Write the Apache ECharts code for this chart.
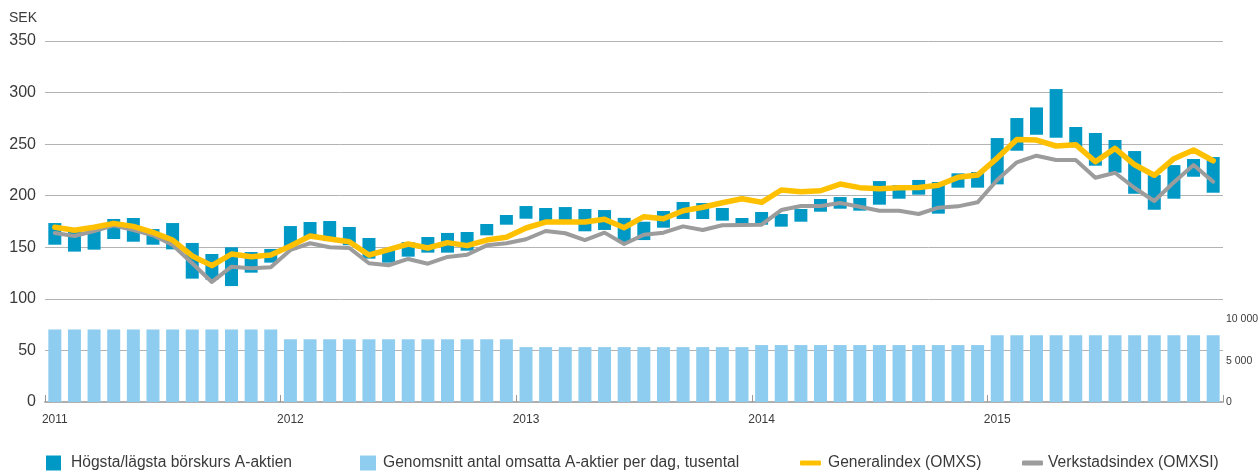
<!DOCTYPE html>
<html>
<head>
<meta charset="utf-8">
<script src="https://cdn.jsdelivr.net/npm/echarts@6/dist/echarts.min.js"></script>
<style>
  html, body { margin: 0; padding: 0; background: #fff; }
  #chart { width: 1258px; height: 472px; }
</style>
</head>
<body>
<div id="chart"></div>
<script>
// Monthly share data 2011–2015
const years = ['2011', '2012', '2013', '2014', '2015'];

// Highest / lowest monthly price of the A share, SEK
const highPrice = [
  173.5, 165.0, 170.0, 177.4, 178.4, 167.7, 173.5, 154.2, 143.5, 150.0, 145.4, 148.4,
  170.6, 174.5, 175.5, 169.7, 159.0, 148.6, 155.1, 160.0, 163.9, 164.8, 172.6, 181.3,
  190.0, 188.1, 189.0, 187.1, 186.1, 178.5, 174.8, 185.2, 193.9, 192.9, 188.1, 178.4,
  184.2, 182.3, 187.1, 196.8, 198.7, 197.8, 214.2, 210.4, 215.3, 213.3, 221.7, 223.0,
  255.9, 275.3, 285.6, 303.4, 266.6, 260.8, 254.0, 243.3, 220.0, 229.7, 235.6, 237.5
];
const lowPrice = [
  152.5, 145.8, 147.7, 158.0, 155.4, 152.5, 148.0, 119.6, 118.6, 112.4, 125.4, 135.1,
  147.4, 158.0, 156.0, 152.0, 139.0, 135.1, 140.9, 144.8, 144.8, 146.7, 161.6, 171.9,
  177.7, 175.0, 176.0, 165.5, 166.8, 155.0, 157.0, 169.0, 177.4, 177.4, 175.8, 171.0,
  171.9, 170.0, 174.8, 184.5, 187.4, 185.5, 191.3, 197.1, 201.0, 182.6, 207.8, 207.8,
  211.0, 243.6, 259.1, 256.2, 247.0, 229.1, 222.3, 201.9, 186.4, 197.1, 218.4, 202.9
];

// Average number of traded A shares per day, thousands
const volume = [
  8800, 8800, 8800, 8800, 8800, 8800, 8800, 8800, 8800, 8800, 8800, 8800,
  7600, 7600, 7600, 7600, 7600, 7600, 7600, 7600, 7600, 7600, 7600, 7600,
  6650, 6650, 6650, 6650, 6650, 6650, 6650, 6650, 6650, 6650, 6650, 6650,
  6900, 6900, 6900, 6900, 6900, 6900, 6900, 6900, 6900, 6900, 6900, 6900,
  8100, 8100, 8100, 8100, 8100, 8100, 8100, 8100, 8100, 8100, 8100, 8100
];

// Index levels rebased to the share price
const generalIndex = [
  169.4, 166.5, 169.4, 173.2, 170.3, 164.5, 157.0, 141.6, 132.2, 143.5, 140.9, 142.5,
  151.3, 161.0, 158.0, 155.4, 142.5, 147.7, 153.2, 149.3, 154.5, 151.6, 157.0, 159.7,
  168.7, 174.5, 174.5, 174.5, 177.1, 169.0, 179.7, 177.7, 185.5, 188.8, 193.2, 197.1,
  193.6, 205.5, 203.9, 204.8, 211.3, 207.8, 206.8, 207.8, 208.0, 210.1, 217.8, 220.0,
  236.5, 254.6, 254.0, 248.2, 249.5, 232.9, 245.9, 230.0, 219.8, 235.9, 244.3, 233.9
];
const verkstadsIndex = [
  163.9, 161.0, 165.8, 171.3, 166.8, 161.6, 152.2, 134.5, 116.4, 131.2, 129.6, 130.6,
  147.4, 153.9, 150.0, 149.3, 134.5, 132.6, 138.7, 134.1, 140.6, 142.8, 151.9, 153.9,
  157.8, 165.8, 163.6, 157.0, 164.2, 153.2, 162.2, 164.2, 170.3, 166.8, 171.3, 171.6,
  171.9, 186.1, 190.0, 190.0, 192.9, 189.3, 185.5, 185.5, 182.3, 188.4, 189.7, 193.6,
  215.2, 232.4, 238.8, 234.6, 234.6, 217.4, 222.3, 207.5, 194.9, 213.0, 229.7, 213.6
];

const names = {
  range: 'Högsta/lägsta börskurs A-aktien',
  volume: 'Genomsnitt antal omsatta A-aktier per dag, tusental',
  general: 'Generalindex (OMXS)',
  verkstad: 'Verkstadsindex (OMXSI)'
};

// One category per month, labelled by year
const months = [];
years.forEach(y => {
  for (let m = 1; m <= 12; m++) months.push(y + '-' + (m < 10 ? '0' + m : m));
});

const rangeSpan = highPrice.map((h, i) => +(h - lowPrice[i]).toFixed(1));

const FONT = '"Liberation Sans", Arial, sans-serif';
const TXT = '#3a3a3a';
const C_RANGE = '#0099c6';
const C_VOL = '#8ecdef';
const C_GEN = '#ffc000';
const C_VERK = '#9c9c9c';

function legendAt(left, name, icon, w, h, gap) {
  return {
    left: left,
    top: 455,
    padding: 0,
    itemWidth: w,
    itemHeight: h,
    selectedMode: false,
    textStyle: { fontFamily: FONT, fontSize: 15.6, color: TXT, padding: [0, 0, 0, gap] },
    data: [{ name: name, icon: icon }]
  };
}

const chart = echarts.init(document.getElementById('chart'), null, { renderer: 'canvas' });

chart.setOption({
  animation: false,
  backgroundColor: '#ffffff',
  grid: { left: 45, right: 35, top: 41, bottom: 70, containLabel: false, outerBoundsMode: 'none' },
  legend: [
    legendAt(46, names.range, 'rect', 15, 15, 5),
    legendAt(360, names.volume, 'rect', 16, 15, 2),
    legendAt(800, names.general, 'roundRect', 21, 5, 2),
    legendAt(1022, names.verkstad, 'roundRect', 21, 5, 0)
  ],
  xAxis: {
    type: 'category',
    data: months,
    boundaryGap: true,
    axisLine: { lineStyle: { color: '#b0b0b0', width: 2 } },
    axisTick: { show: true, inside: true, length: 7, interval: 11, lineStyle: { color: '#999999', width: 1 } },
    axisLabel: {
      interval: 11,
      margin: 12,
      fontFamily: FONT,
      fontSize: 12,
      color: TXT,
      formatter: v => v.slice(0, 4)
    },
    splitLine: { show: false }
  },
  yAxis: [
    {
      type: 'value',
      min: 0,
      max: 350,
      interval: 50,
      name: 'SEK',
      nameLocation: 'end',
      nameGap: 23,
      nameTextStyle: { fontFamily: FONT, fontSize: 14, color: TXT, align: 'right', verticalAlign: 'middle', padding: [0, 8, 0, 0] },
      axisLine: { show: false },
      axisTick: { show: false },
      axisLabel: { fontFamily: FONT, fontSize: 16, color: TXT, margin: 9 },
      splitLine: { lineStyle: { color: '#b3b3b3', width: 1 } }
    },
    {
      type: 'value',
      min: 0,
      max: 43750,
      interval: 5000,
      position: 'right',
      axisLine: { show: false },
      axisTick: { show: false },
      splitLine: { show: false },
      axisLabel: {
        fontFamily: FONT,
        fontSize: 10.5,
        color: TXT,
        margin: 3,
        showMaxLabel: false,
        formatter: v => (v <= 10000 && v % 5000 === 0) ? String(v).replace(/\B(?=(\d{3})+(?!\d))/g, ' ') : ''
      }
    }
  ],
  series: [
    {
      name: names.volume,
      type: 'bar',
      yAxisIndex: 1,
      data: volume,
      barWidth: 13,
      barGap: '-100%',
      itemStyle: { color: C_VOL },
      z: 1
    },
    {
      name: 'base',
      type: 'bar',
      stack: 'range',
      data: lowPrice,
      barWidth: 13,
      barGap: '-100%',
      itemStyle: { color: 'rgba(0,0,0,0)' },
      silent: true,
      z: 2
    },
    {
      name: names.range,
      type: 'bar',
      stack: 'range',
      data: rangeSpan,
      barWidth: 13,
      barGap: '-100%',
      itemStyle: { color: C_RANGE },
      z: 2
    },
    {
      name: names.verkstad,
      type: 'line',
      data: verkstadsIndex,
      symbol: 'none',
      lineStyle: { color: C_VERK, width: 4, join: 'round', cap: 'round' },
      itemStyle: { color: C_VERK },
      z: 3
    },
    {
      name: names.general,
      type: 'line',
      data: generalIndex,
      symbol: 'none',
      lineStyle: { color: C_GEN, width: 5.5, join: 'round', cap: 'round' },
      itemStyle: { color: C_GEN },
      z: 4
    }
  ]
});
</script>
</body>
</html>
